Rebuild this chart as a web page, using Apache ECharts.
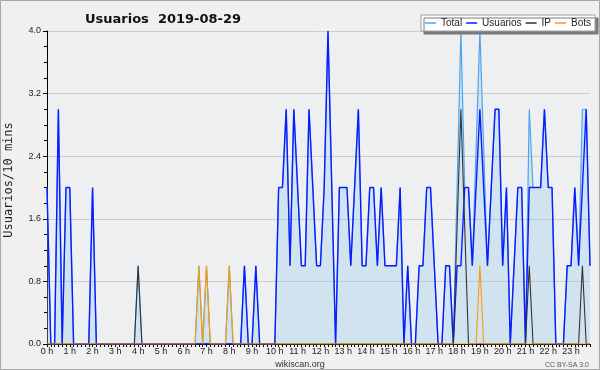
<!DOCTYPE html>
<html>
<head>
<meta charset="utf-8">
<script src="https://cdn.jsdelivr.net/npm/echarts@6/dist/echarts.min.js"></script>
<style>
html,body{margin:0;padding:0;background:#f0f0f0;}
#chart{width:600px;height:370px;}
</style>
</head>
<body>
<div id="chart"></div>
<script>
// 10 min slots, 144 per day, one row = 2 hours
var hourLabels = ['0 h','1 h','2 h','3 h','4 h','5 h','6 h','7 h','8 h','9 h','10 h','11 h',
	'12 h','13 h','14 h','15 h','16 h','17 h','18 h','19 h','20 h','21 h','22 h','23 h'];

var total = [
	2,0,0,3,0,2,2,0,0,0,0,0,
	2,0,0,0,0,0,0,0,0,0,0,0,
	1,0,0,0,0,0,0,0,0,0,0,0,
	0,0,0,0,1,0,1,0,0,0,0,0,
	1,0,0,0,1,0,0,1,0,0,0,0,
	0,2,2,3,1,3,2,1,1,3,2,1,
	1,2,4,2,0,2,2,2,1,2,3,1,
	1,2,2,1,2,1,1,1,1,2,0,1,
	0,0,1,1,2,2,1,0,0,1,1,0,
	2,4,2,2,1,2.5,4,2.5,1,2,3,3,
	1,2,0,1,2,2,0,3,2,2,2,3,
	2,2,0,0,0,1,1,2,1,3,3,1
];
var usuarios = [
	2,0,0,3,0,2,2,0,0,0,0,0,
	2,0,0,0,0,0,0,0,0,0,0,0,
	0,0,0,0,0,0,0,0,0,0,0,0,
	0,0,0,0,0,0,0,0,0,0,0,0,
	0,0,0,0,1,0,0,1,0,0,0,0,
	0,2,2,3,1,3,2,1,1,3,2,1,
	1,2,4,2,0,2,2,2,1,2,3,1,
	1,2,2,1,2,1,1,1,1,2,0,1,
	0,0,1,1,2,2,1,0,0,1,1,0,
	1,1,2,2,1,2,3,2,1,2,3,3,
	1,2,0,1,2,2,0,2,2,2,2,3,
	2,2,0,0,0,1,1,2,1,2,3,1
];
var ip = [
	0,0,0,0,0,0,0,0,0,0,0,0,
	0,0,0,0,0,0,0,0,0,0,0,0,
	1,0,0,0,0,0,0,0,0,0,0,0,
	0,0,0,0,0,0,0,0,0,0,0,0,
	0,0,0,0,0,0,0,0,0,0,0,0,
	0,0,0,0,0,0,0,0,0,0,0,0,
	0,0,0,0,0,0,0,0,0,0,0,0,
	0,0,0,0,0,0,0,0,0,0,0,0,
	0,0,0,0,0,0,0,0,0,0,0,0,
	1.5,3,1.5,0,0,0,0,0,0,0,0,0,
	0,0,0,0,0,0,0,1,0,0,0,0,
	0,0,0,0,0,0,0,0,0,1,0,0
];
var bots = [
	0,0,0,0,0,0,0,0,0,0,0,0,
	0,0,0,0,0,0,0,0,0,0,0,0,
	0,0,0,0,0,0,0,0,0,0,0,0,
	0,0,0,0,1,0,1,0,0,0,0,0,
	1,0,0,0,0,0,0,0,0,0,0,0,
	0,0,0,0,0,0,0,0,0,0,0,0,
	0,0,0,0,0,0,0,0,0,0,0,0,
	0,0,0,0,0,0,0,0,0,0,0,0,
	0,0,0,0,0,0,0,0,0,0,0,0,
	0,0,0,0,0,0,1,0,0,0,0,0,
	0,0,0,0,0,0,0,0,0,0,0,0,
	0,0,0,0,0,0,0,0,0,0,0,0
];

var slots = [];
for (var i = 0; i < total.length; i++) slots.push(i);

var myChart = echarts.init(document.getElementById('chart'));

var option = {
	animation: false,
	backgroundColor: '#f0f0f0',
	textStyle: {fontFamily: 'Liberation Sans'},
	title: {
		text: 'Usuarios  2019-08-29',
		left: 80,
		top: 8,
		textStyle: {fontSize: 13, fontWeight: 'bold', color: '#111', fontFamily: 'DejaVu Sans'}
	},
	legend: {
		data: ['Total', 'Usuarios', 'IP', 'Bots'],
		left: 421,
		top: 15,
		width: 200,
		padding: [3, 4, 3, 4],
		itemGap: 4,
		itemWidth: 11,
		itemHeight: 1.5,
		icon: 'rect',
		backgroundColor: '#ffffff',
		borderColor: '#a0a0a0',
		borderWidth: 1,
		shadowColor: '#7a7a7a',
		shadowBlur: 0,
		shadowOffsetX: 3,
		shadowOffsetY: 3,
		selectedMode: false,
		textStyle: {fontSize: 10, color: '#222'}
	},
	grid: {//位置
		left: 47,
		right: 10,
		top: 31,
		bottom: 26,
		show: true,
		backgroundColor: '#eeeff1',
		borderWidth: 0,
		outerBoundsMode: 'none'
	},
	xAxis: {
		type: 'category',
		data: slots,
		boundaryGap: false,
		axisLine: {lineStyle: {color: '#000', width: 1}},
		axisTick: {show: true, interval: 0, length: 3, lineStyle: {color: '#000'}},
		axisLabel: {
			interval: 5,
			margin: 3,
			fontSize: 9,
			color: '#222',
			formatter: function (v, idx) {
				return hourLabels[idx / 6];
			}
		},
		splitLine: {show: false}
	},
	yAxis: {
		type: 'value',
		min: 0,
		max: 4,
		interval: 0.8,
		axisLine: {show: true, lineStyle: {color: '#000', width: 1}},
		axisTick: {show: true, length: 4, lineStyle: {color: '#000'}},
		minorTick: {show: true, splitNumber: 4, length: 3, lineStyle: {color: '#000'}},
		axisLabel: {
			fontSize: 9,
			color: '#222',
			margin: 6,
			formatter: function (v) { return v.toFixed(1); }
		},
		splitLine: {lineStyle: {color: '#cccccc', width: 1}}
	},
	series: [
		{
			name: 'Total',
			type: 'line',
			data: total,
			symbol: 'none',
			lineStyle: {color: '#4aa6f2', width: 1.2},
			itemStyle: {color: '#4aa6f2'},
			areaStyle: {color: 'rgba(150,200,240,0.45)'}
		},
		{
			name: 'Usuarios',
			type: 'line',
			data: usuarios,
			symbol: 'none',
			lineStyle: {color: '#0a1cff', width: 1.4},
			itemStyle: {color: '#0a1cff'}
		},
		{
			name: 'IP',
			type: 'line',
			data: ip,
			symbol: 'none',
			lineStyle: {color: '#333333', width: 1.1},
			itemStyle: {color: '#333333'}
		},
		{
			name: 'Bots',
			type: 'line',
			data: bots,
			symbol: 'none',
			lineStyle: {color: '#ff9900', width: 1.1},
			itemStyle: {color: '#ff9900'}
		}
	],
	graphic: [
		{
			type: 'text',
			x: 9, y: 180,
			rotation: Math.PI / 2,
			style: {text: 'Usuarios/10 mins', font: '12px "DejaVu Sans Mono"', fill: '#222', align: 'center', verticalAlign: 'middle'}
		},
		{
			type: 'text',
			x: 300, y: 365,
			style: {text: 'wikiscan.org', font: '9px "Liberation Sans"', fill: '#333', align: 'center', verticalAlign: 'middle'}
		},
		{
			type: 'text',
			x: 589, y: 365,
			style: {text: 'CC BY-SA 3.0', font: '7px "Liberation Sans"', fill: '#555', align: 'right', verticalAlign: 'middle'}
		},
		{
			type: 'rect',
			shape: {x: 0.5, y: 0.5, width: 599, height: 369},
			style: {fill: 'none', stroke: '#a8a8a8', lineWidth: 1},
			z: 100
		}
	]
};

myChart.setOption(option);
</script>
</body>
</html>
